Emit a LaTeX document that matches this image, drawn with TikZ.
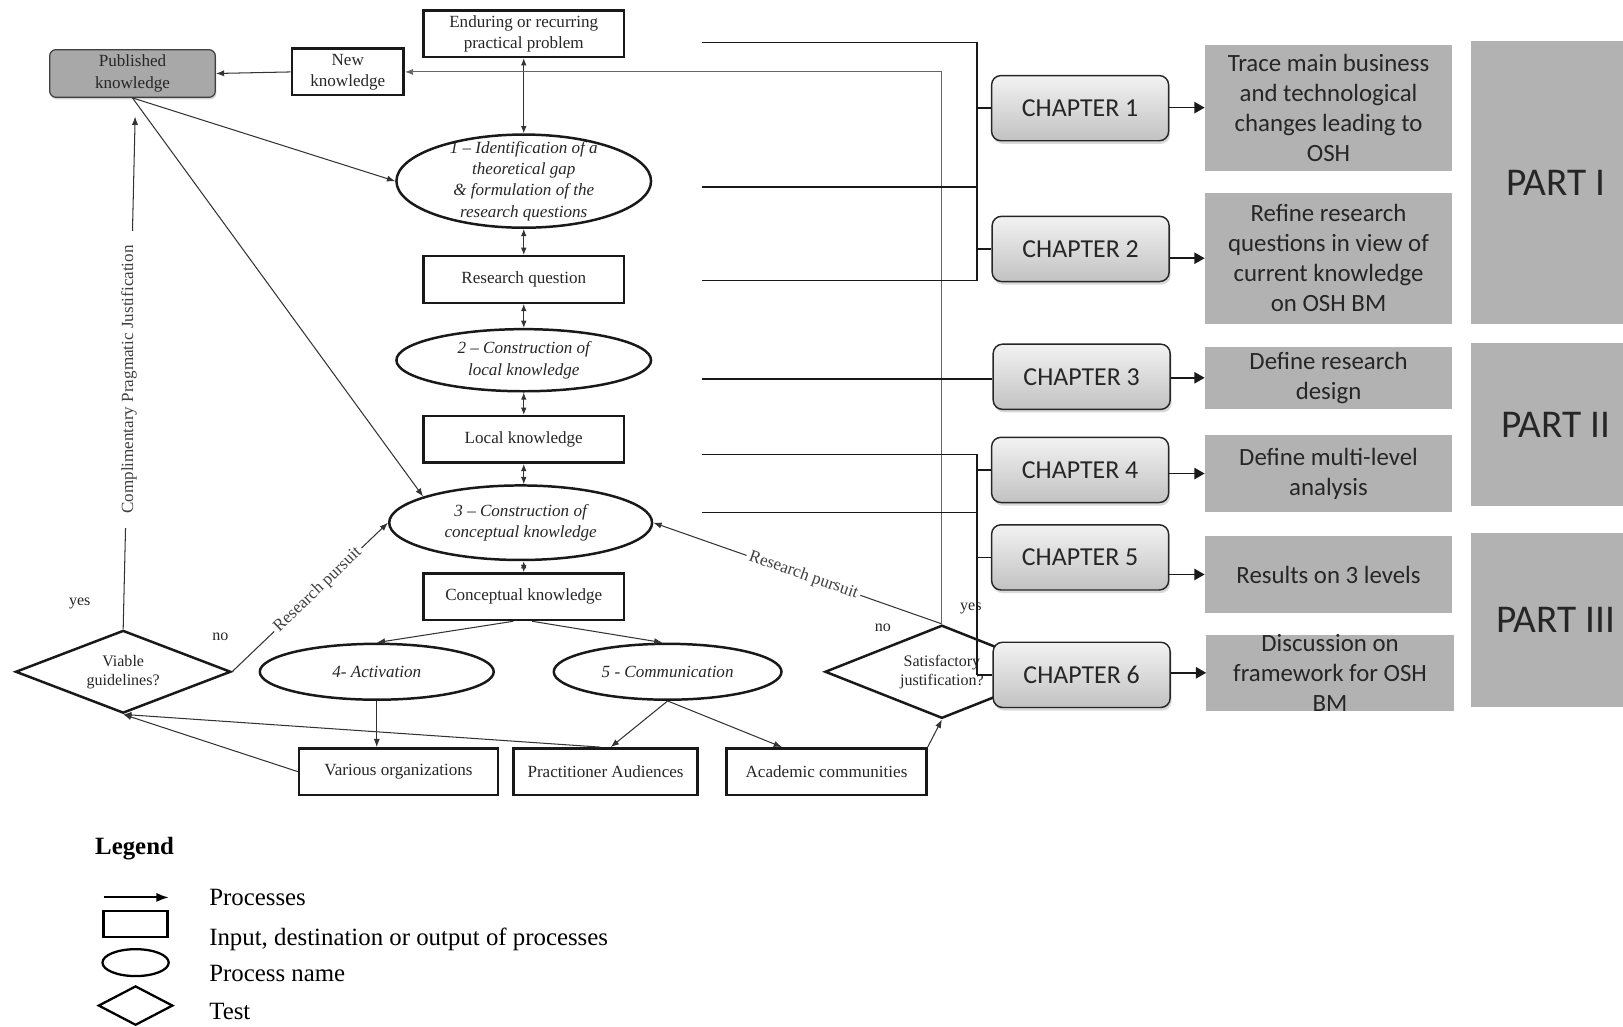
\documentclass[tikz,border=0pt]{standalone}
\usepackage{fontspec}
\setmainfont{Liberation Serif}
\newfontfamily\carlito{Carlito}
\usetikzlibrary{arrows.meta,shapes.geometric,shadows}
\newcommand\mainfs{\fontsize{16.5}{20.5}\selectfont}
\newcommand\smallfs{\fontsize{15.5}{18.5}\selectfont}
\newcommand\rightfs{\carlito\fontsize{24}{29}\selectfont}
\begin{document}
\begin{tikzpicture}[x=1pt,y=-1pt,
  every node/.style={text=black!85},
  box/.style={draw=black!90,line width=2.4pt,rectangle,minimum width=#1,minimum height=45pt,inner sep=0pt,align=center,font=\mainfs},
  proc/.style={draw=black!90,line width=2.4pt,ellipse,inner sep=0pt,align=center,font=\mainfs\itshape},
  test/.style={draw=black!90,line width=2.4pt,diamond,inner sep=0pt,align=center,font=\smallfs},
  pubbox/.style={draw=black!75,line width=1.2pt,rounded corners=6pt,fill=black!34,minimum width=160pt,minimum height=46pt,inner sep=0pt,align=center,font=\mainfs,drop shadow={shadow xshift=1pt,shadow yshift=-2pt,opacity=0.35}},
  chap/.style={draw=black!85,line width=1.4pt,rounded corners=9pt,top color=black!5,bottom color=black!24,minimum width=171pt,minimum height=63pt,inner sep=0pt,font=\carlito\fontsize{25}{30}\selectfont,drop shadow={shadow xshift=1.5pt,shadow yshift=-3pt,opacity=0.3}},
  gbox/.style={fill=black!30,minimum width=239pt,minimum height=#1,inner sep=0pt,align=center,font=\rightfs},
  pbox/.style={fill=black!30,minimum width=164pt,minimum height=#1,inner sep=0pt,font=\carlito\fontsize{38}{44}\selectfont},
  conn/.style={draw=black!80,line width=1pt},
  arr/.style={conn,-{Latex[length=8pt,width=6pt]}},
  dbl/.style={conn,{Latex[length=7pt,width=5.5pt]}-{Latex[length=7pt,width=5.5pt]}},
  bus/.style={draw=black!90,line width=1.3pt},
  carr/.style={draw=black!90,line width=1.5pt,-{Triangle[length=10pt,width=11pt]}},
  lbl/.style={font=\smallfs,inner sep=1pt},
  plbl/.style={font=\mainfs,text=black!75,fill=white,inner sep=4pt,sloped}
]
\useasboundingbox (0,0) rectangle (1568,992);

% ---------- left flow ----------
\node[box=194pt] (endur) at (506,32.5) {Enduring or recurring\\practical problem};
\node[box=108pt] (newk) at (336,69.5) {New\\knowledge};
\node[pubbox] (pub) at (128,71) {Published\\knowledge};
\node[proc,minimum width=246pt,minimum height=90pt,inner ysep=-12pt] (e1) at (506,175) {1 – Identification of a\\theoretical gap\\\& formulation of the\\research questions};
\node[box=194pt] (rq) at (506,270) {Research question};
\node[proc,minimum width=246pt,minimum height=60pt] (e2) at (506,348) {2 – Construction of\\local knowledge};
\node[box=194pt] (lk) at (506,424.5) {Local knowledge};
\node[proc,minimum width=254pt,minimum height=72pt] (e3) at (503,505) {3 – Construction of\\conceptual knowledge};
\node[box=194pt] (ck) at (506,576.5) {Conceptual knowledge};
\node[proc,minimum width=226pt,minimum height=54pt] (e4) at (364,649) {4- Activation};
\node[proc,minimum width=220pt,minimum height=54pt] (e5) at (645,649) {5 - Communication};
\node[box=192pt] (vo) at (385,745.5) {Various organizations};
\node[box=178pt] (pa) at (585,745.5) {Practitioner Audiences};
\node[box=193pt] (ac) at (798.5,745.5) {Academic communities};
\node[test,aspect=2.6,minimum width=208pt,minimum height=80pt] (via) at (119,649) {Viable\\guidelines?};
\node[test,aspect=2.5,minimum width=226pt,minimum height=90pt] (sat) at (910,649) {Satisfactory\\justification?};

\node[lbl] (yes1) at (77,583) {yes};
\node[lbl] (no1) at (213,615) {no};
\node[lbl] (no2) at (853,607) {no};
\node[lbl] (yes2) at (938,588) {yes};

% vertical chain
\draw[dbl] (endur) -- (e1);
\draw[dbl] (e1) -- (rq);
\draw[dbl] (rq) -- (e2);
\draw[dbl] (e2) -- (lk);
\draw[dbl] (lk.south) -- (lk.south |- e3.north);
\draw[dbl] (ck.north |- e3.south) -- (ck.north);
\draw[arr] ([xshift=-10pt]ck.south) -- (e4.north);
\draw[arr] ([xshift=8pt]ck.south) -- ([xshift=-5pt]e5.north);
\draw[arr] (e4.south) -- (e4.south |- vo.north);
\draw[arr] (e5.south) -- ([xshift=5pt]pa.north);
\draw[arr] (e5.south) -- ([xshift=-43pt]ac.north);

\draw[arr] (newk.west) -- (pub.east);
\draw[arr] (pub.south) -- (e1.west);
\draw[arr] (pub.south) -- (e3.165);
\draw[arr,shorten >=18pt] (via.north) -- node[plbl,pos=0.47,rotate=90,sloped=false,inner sep=14pt]{Complimentary Pragmatic Justification} ([xshift=3pt]pub.south);
\draw[arr] (via.east) -- node[plbl,pos=0.55,inner sep=3pt]{Research pursuit} (e3.west);
\draw[arr] (sat.north) -- node[plbl,pos=0.48,inner sep=3pt]{Research pursuit} (e3.east);
\draw[arr,draw=black!60,line width=0.9pt] (sat.north) |- (newk.east);
\draw[arr] (vo.west) -- (via.south);
\draw[arr] ([xshift=-5pt]pa.north) -- (via.south);
\draw[arr] (ac.north east) -- (sat.south);

% ---------- right side ----------
\coordinate (s1) at (678,41);
\coordinate (s2) at (678,181);
\coordinate (s3) at (678,271);
\coordinate (s4) at (678,366);
\coordinate (s5) at (678,439);
\coordinate (s6) at (678,495);
\coordinate (ja) at (944,41);
\coordinate (jb) at (944,271);
\coordinate (jc) at (944,439);
\coordinate (jd) at (944,652);

\draw[bus] (s1) -- (ja) -- (jb) -- (s3);
\draw[bus,line width=2pt] (s2) -- (s2 -| ja);
\draw[bus] (s5) -- (jc) -- (jd);
\draw[bus] (s6) -- (s6 -| jc);

\node[gbox=122pt] (g1) at (1283.5,104) {Trace main business\\and technological\\changes leading to\\OSH};
\node[gbox=127pt] (g2) at (1283.5,249.5) {Refine research\\questions in view of\\current knowledge\\on OSH BM};
\node[gbox=60pt] (g3) at (1283.5,365) {Define research\\design};
\node[gbox=75pt] (g4) at (1283.5,457.5) {Define multi-level\\analysis};
\node[gbox=74pt] (g5) at (1283.5,555) {Results on 3 levels};
\node[gbox=74pt,inner ysep=-10pt] (g6) at (1285,650) {Discussion on\\framework for OSH\\BM};

\node[pbox=273pt] (p1) at (1503,176.5) {PART I};
\node[pbox=158pt] (p2) at (1503,410) {PART II};
\node[pbox=168pt] (p3) at (1503,599) {PART III};

\node[chap] (ch1) at (1043.5,104.5) {CHAPTER 1};
\node[chap] (ch2) at (1044,240.5) {CHAPTER 2};
\node[chap] (ch3) at (1045,364) {CHAPTER 3};
\node[chap] (ch4) at (1043.5,454) {CHAPTER 4};
\node[chap] (ch5) at (1043.5,538.5) {CHAPTER 5};
\node[chap] (ch6) at (1045,652) {CHAPTER 6};

\draw[bus] (ja |- ch1.west) -- (ch1.west);
\draw[bus] (ja |- ch2.west) -- (ch2.west);
\draw[bus] (s4) -- (s4 -| ch3.west);
\draw[bus] (jc |- ch4.west) -- (ch4.west);
\draw[bus] (jc |- ch5.west) -- (ch5.west);
\draw[bus] (jd) -- (ch6.west);

\draw[carr] (ch1.east |- g1.west) -- (g1.west);
\draw[carr] (ch2.east |- g2.west) -- (g2.west);
\draw[carr] (ch3.east |- g3.west) -- (g3.west);
\draw[carr] (ch4.east |- g4.west) -- (g4.west);
\draw[carr] (ch5.east |- g5.west) -- (g5.west);
\draw[carr] (ch6.east |- g6.west) -- (g6.west);

% ---------- legend ----------
\node[font=\bfseries\fontsize{24}{28}\selectfont,text=black] (leg) at (130,820) {Legend};
\coordinate (la1) at (100,867);
\coordinate (la2) at (163,867);
\draw[draw=black,line width=1.8pt,-{Latex[length=12pt,width=9pt]}] (la1) -- (la2);
\node[draw=black,line width=2.4pt,minimum width=62pt,minimum height=25pt,inner sep=0pt] (lrect) at (131,892.5) {};
\node[draw=black,line width=2.2pt,ellipse,minimum width=64pt,minimum height=26pt,inner sep=0pt] (lell) at (131,930) {};
\node[draw=black,line width=2.2pt,diamond,minimum width=72pt,minimum height=38pt,inner sep=0pt] (ldia) at (131,971.5) {};
\node[anchor=base west,font=\fontsize{24}{28}\selectfont,inner sep=0pt,text=black] (lt1) at (202,875) {Processes};
\node[anchor=base west,font=\fontsize{24}{28}\selectfont,inner sep=0pt,text=black] (lt2) at (202,913) {Input, destination or output of processes};
\node[anchor=base west,font=\fontsize{24}{28}\selectfont,inner sep=0pt,text=black] (lt3) at (202,948) {Process name};
\node[anchor=base west,font=\fontsize{24}{28}\selectfont,inner sep=0pt,text=black] (lt4) at (202,985) {Test};
\end{tikzpicture}
\end{document}
